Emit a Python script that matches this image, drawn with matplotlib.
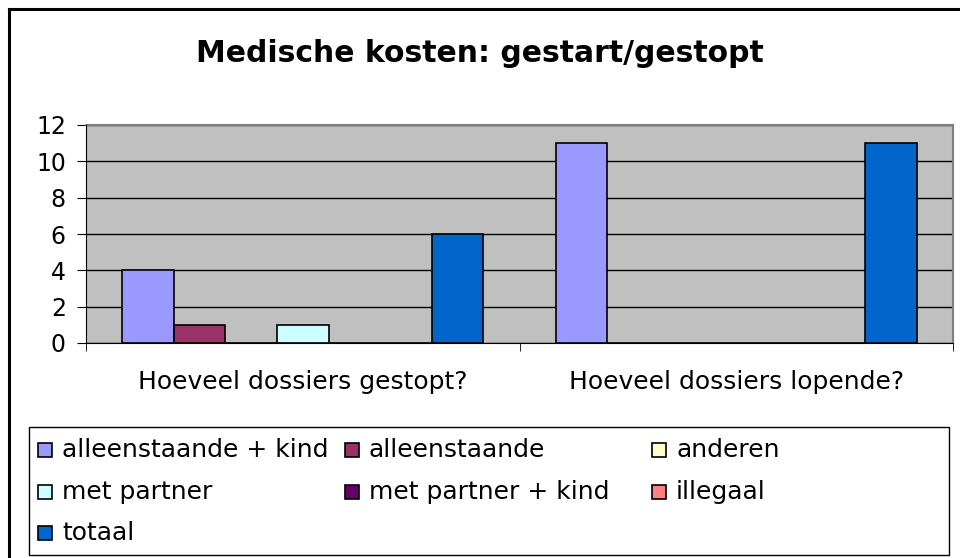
import numpy as np
from matplotlib import pyplot as plt
from matplotlib.patches import Rectangle
from matplotlib.lines import Line2D

categories = ["Hoeveel dossiers gestopt?", "Hoeveel dossiers lopende?"]
series = ["alleenstaande + kind", "alleenstaande", "anderen", "met partner",
          "met partner + kind", "illegaal", "totaal"]
alleenstaande_kind = [4, 11]
alleenstaande = [1, 0]
anderen = [0, 0]
met_partner = [1, 0]
met_partner_kind = [0, 0]
illegaal = [0, 0]
totaal = [6, 11]
values = [alleenstaande_kind, alleenstaande, anderen, met_partner,
          met_partner_kind, illegaal, totaal]
colors = ["#9999FF", "#993366", "#FFFFCC", "#CCFFFF", "#660066", "#FF8080", "#0066CC"]

W, H = 960, 558
fig = plt.figure(figsize=(W/100, H/100), dpi=100)

def fx(px):
    return px / W

def fy(py):
    return 1 - py / H

# rand links en boven (rest valt buiten beeld)
fig.lines.append(Line2D([fx(9), fx(9)], [fy(9), 0], transform=fig.transFigure, color="black", lw=2.2))
fig.lines.append(Line2D([fx(9), 1], [fy(9), fy(9)], transform=fig.transFigure, color="black", lw=2.2))

fig.text(0.5, fy(53), "Medische kosten: gestart/gestopt", ha="center", va="center",
         fontsize=21.5, fontweight="bold")

ax = fig.add_axes([fx(86), fy(343), fx(867), 218/H])
ax.set_facecolor("#C0C0C0")
x = np.arange(len(categories))
w = 0.119
for i, vals in enumerate(values):
    ax.bar(x + (i - 3) * w, vals, w, color=colors[i], edgecolor="black", lw=1.2, zorder=3)

ax.set_xlim(-0.5, 1.5)
ax.set_ylim(0, 12)
ax.set_yticks(range(0, 13, 2))
ax.tick_params(axis="y", labelsize=17, length=6.5, direction="out", pad=8)
ax.yaxis.grid(True, color="black", lw=1, zorder=1)
ax.set_axisbelow(True)
ax.set_xticks(x)
ax.set_xticklabels(categories, fontsize=18)
ax.tick_params(axis="x", length=0, pad=19.5)
ax.set_xticks([-0.5, 0.5, 1.5], minor=True)
ax.tick_params(axis="x", which="minor", length=5.5, direction="out")
for s in ["top", "right"]:
    ax.spines[s].set_color("#808080")
    ax.spines[s].set_lw(1.5)
for s in ["left", "bottom"]:
    ax.spines[s].set_color("black")
    ax.spines[s].set_zorder(4)

# legenda
fig.patches.append(Rectangle((fx(29), fy(555)), fx(920), 128/H, transform=fig.transFigure,
                             fill=False, ec="black", lw=1))
col_x = [38, 345, 652]
row_y = [450, 492, 533]
for i, name in enumerate(series):
    cx = col_x[i % 3]
    cy = row_y[i // 3]
    fig.patches.append(Rectangle((fx(cx), fy(cy + 7)), fx(14), 14/H, transform=fig.transFigure,
                                 fc=colors[i], ec="black", lw=1.2))
    fig.text(fx(cx + 24), fy(cy), name, ha="left", va="center", fontsize=18)

fig.savefig("out.png", dpi=100)
